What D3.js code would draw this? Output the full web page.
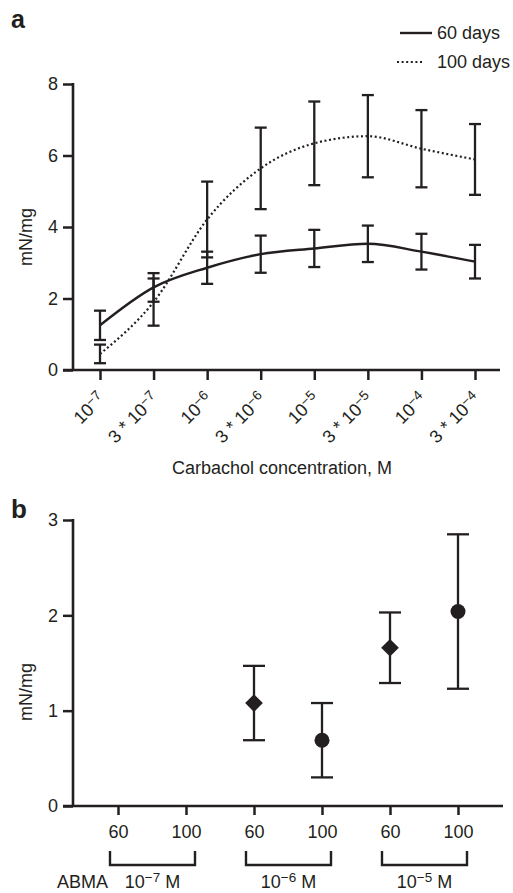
<!DOCTYPE html>
<meta charset="utf-8">
<style>
  body { margin: 0; background: #fff; }
  text { font-family: "Liberation Sans", Arial, sans-serif; fill: #231f20; }
</style>
<svg id="svg1" width="513" height="893"></svg>
<script src="https://cdn.jsdelivr.net/npm/d3@7"></script>
<script>

// panel a: carbachol dose-response
var concPrefix = ["", "3 * ", "", "3 * ", "", "3 * ", "", "3 * "],
    concExp    = ["\u22127", "\u22127", "\u22126", "\u22126", "\u22125", "\u22125", "\u22124", "\u22124"];

var mean60  = [1.25, 2.31, 2.86, 3.24, 3.40, 3.53, 3.31, 3.03],
    err60   = [0.41, 0.40, 0.45, 0.52, 0.52, 0.51, 0.50, 0.47],
    mean100 = [0.45, 1.90, 4.21, 5.64, 6.34, 6.54, 6.19, 5.89],
    err100  = [0.26, 0.66, 1.06, 1.14, 1.17, 1.15, 1.08, 0.99];

var seriesNames = ["60 days", "100 days"];

// panel b: ABMA
var abmaDose = ["\u22127", "\u22126", "\u22125"],
    ages = ["60", "100"],
    bMean60  = [null, 1.08, 1.66],
    bErr60   = [null, 0.39, 0.37],
    bMean100 = [null, 0.69, 2.04],
    bErr100  = [null, 0.39, 0.81];

var ink = "#231f20";
var svg = d3.select("#svg1");

function supLabel(sel, pre, exp, post) {
  sel.append("tspan").text(pre + "10");
  sel.append("tspan").attr("dy", "-0.42em").attr("font-size", "0.75em").text(exp);
  if (post) sel.append("tspan").attr("dy", "0.32em").text(post);
}

function styleAxis(g) {
  g.select(".domain").remove();
  g.selectAll(".tick line").attr("stroke", ink).attr("stroke-width", 2.5);
  g.selectAll(".tick text").attr("font-size", 18).attr("fill", ink);
}

// ---------- panel a ----------
var xa = d3.scaleLinear().domain([0, 7]).range([100, 475]),
    ya = d3.scaleLinear().domain([0, 8]).range([370, 84]);

var ga = svg.append("g");

ga.append("text").attr("x", 11).attr("y", 28)
    .attr("font-size", 25).attr("font-weight", "bold").text("a");

ga.append("g").attr("transform", "translate(73,0)")
    .call(d3.axisLeft(ya).tickValues([0, 2, 4, 6, 8]).tickSize(10).tickPadding(5))
    .call(styleAxis);

ga.append("g").attr("transform", "translate(0,370)")
    .call(d3.axisBottom(xa).tickValues(d3.range(8)).tickSize(10).tickFormat(""))
    .call(styleAxis);

ga.append("line").attr("x1", 73).attr("x2", 73).attr("y1", 83).attr("y2", 371)
    .attr("stroke", ink).attr("stroke-width", 2.6);
ga.append("line").attr("x1", 63).attr("x2", 500).attr("y1", 370).attr("y2", 370)
    .attr("stroke", ink).attr("stroke-width", 2.6);

concPrefix.forEach(function(p, i) {
  var t = ga.append("text")
      .attr("transform", "translate(" + (xa(i) + 6) + ",400) rotate(-45)")
      .attr("text-anchor", "end")
      .attr("font-size", 18);
  supLabel(t, p, concExp[i]);
});

ga.append("text").attr("x", 282).attr("y", 474).attr("text-anchor", "middle")
    .attr("font-size", 18).text("Carbachol concentration, M");

ga.append("text").attr("transform", "translate(32,237) rotate(-90)")
    .attr("text-anchor", "middle").attr("font-size", 18).text("mN/mg");

var line = d3.line()
    .x(function(d, i) { return xa(i); })
    .y(function(d) { return ya(d); })
    .curve(d3.curveMonotoneX);

ga.append("path").datum(mean100).attr("d", line)
    .attr("fill", "none").attr("stroke", ink).attr("stroke-width", 2.2)
    .attr("stroke-dasharray", "2,2.6");
ga.append("path").datum(mean60).attr("d", line)
    .attr("fill", "none").attr("stroke", ink).attr("stroke-width", 2.4);

function errBars(g, xs, ys, means, errs, cap) {
  means.forEach(function(m, i) {
    if (m == null) return;
    var x = xs(i), top = ys(m + errs[i]), bot = ys(m - errs[i]);
    g.append("line").attr("x1", x).attr("x2", x).attr("y1", top).attr("y2", bot);
    g.append("line").attr("x1", x - cap).attr("x2", x + cap).attr("y1", top).attr("y2", top);
    g.append("line").attr("x1", x - cap).attr("x2", x + cap).attr("y1", bot).attr("y2", bot);
  });
}

var eb = ga.append("g").attr("stroke", ink).attr("stroke-width", 2.3);
errBars(eb, xa, ya, mean100, err100, 6);
errBars(eb, xa, ya, mean60, err60, 6);

// legend
var leg = ga.append("g");
leg.append("line").attr("x1", 400).attr("x2", 432).attr("y1", 33).attr("y2", 33)
    .attr("stroke", ink).attr("stroke-width", 2.4);
leg.append("line").attr("x1", 397).attr("x2", 424).attr("y1", 62).attr("y2", 62)
    .attr("stroke", ink).attr("stroke-width", 2.2).attr("stroke-dasharray", "2,2.6");
leg.selectAll("text.lg").data(seriesNames).enter().append("text")
    .attr("x", 437).attr("y", function(d, i) { return 39 + i * 29; })
    .attr("font-size", 18).text(function(d) { return d; });

// ---------- panel b ----------
var xb = d3.scaleLinear().domain([0, 5]).range([118, 458]),
    yb = d3.scaleLinear().domain([0, 3]).range([806, 520]);

var gb = svg.append("g");

gb.append("text").attr("x", 11).attr("y", 518)
    .attr("font-size", 26).attr("font-weight", "bold").text("b");

gb.append("g").attr("transform", "translate(73,0)")
    .call(d3.axisLeft(yb).tickValues([0, 1, 2, 3]).tickFormat(d3.format("d"))
      .tickSize(10).tickPadding(5))
    .call(styleAxis);

gb.append("g").attr("transform", "translate(0,806)")
    .call(d3.axisBottom(xb).tickValues(d3.range(6)).tickSize(9).tickPadding(10)
      .tickFormat(function(d) { return ages[d % 2]; }))
    .call(styleAxis);

gb.append("line").attr("x1", 73).attr("x2", 73).attr("y1", 519).attr("y2", 807)
    .attr("stroke", ink).attr("stroke-width", 2.6);
gb.append("line").attr("x1", 63).attr("x2", 503).attr("y1", 806).attr("y2", 806)
    .attr("stroke", ink).attr("stroke-width", 2.6);

gb.append("text").attr("transform", "translate(32,692) rotate(-90)")
    .attr("text-anchor", "middle").attr("font-size", 18).text("mN/mg");

// brackets
abmaDose.forEach(function(d, j) {
  var x0 = xb(j * 2) - 8, x1 = xb(j * 2 + 1) + 9;
  gb.append("path")
      .attr("d", "M" + x0 + ",851V865H" + x1 + "V851")
      .attr("fill", "none").attr("stroke", ink).attr("stroke-width", 2.4);
  var t = gb.append("text").attr("x", (x0 + x1) / 2).attr("y", 888)
      .attr("text-anchor", "middle").attr("font-size", 18);
  supLabel(t, "", d, " M");
});
gb.append("text").attr("x", 57).attr("y", 888).attr("font-size", 18).text("ABMA");

var eb2 = gb.append("g").attr("stroke", ink).attr("stroke-width", 2.3);
bMean60.forEach(function(m, j) {
  if (m == null) return;
  errBars(eb2, function() { return xb(j * 2); }, yb, [m], [bErr60[j]], 11);
});
bMean100.forEach(function(m, j) {
  if (m == null) return;
  errBars(eb2, function() { return xb(j * 2 + 1); }, yb, [m], [bErr100[j]], 11);
});

gb.selectAll("path.dia").data(bMean60).enter()
  .filter(function(d) { return d != null; })
  .append("path")
    .attr("d", d3.symbol().type(d3.symbolDiamond2).size(200))
    .attr("transform", function(d) { return "translate(" + xb(bMean60.indexOf(d) * 2) + "," + yb(d) + ")"; })
    .attr("fill", ink);

gb.selectAll("circle.pt").data(bMean100).enter()
  .filter(function(d) { return d != null; })
  .append("circle")
    .attr("cx", function(d) { return xb(bMean100.indexOf(d) * 2 + 1); })
    .attr("cy", function(d) { return yb(d); })
    .attr("r", 7.5).attr("fill", ink);

</script>
